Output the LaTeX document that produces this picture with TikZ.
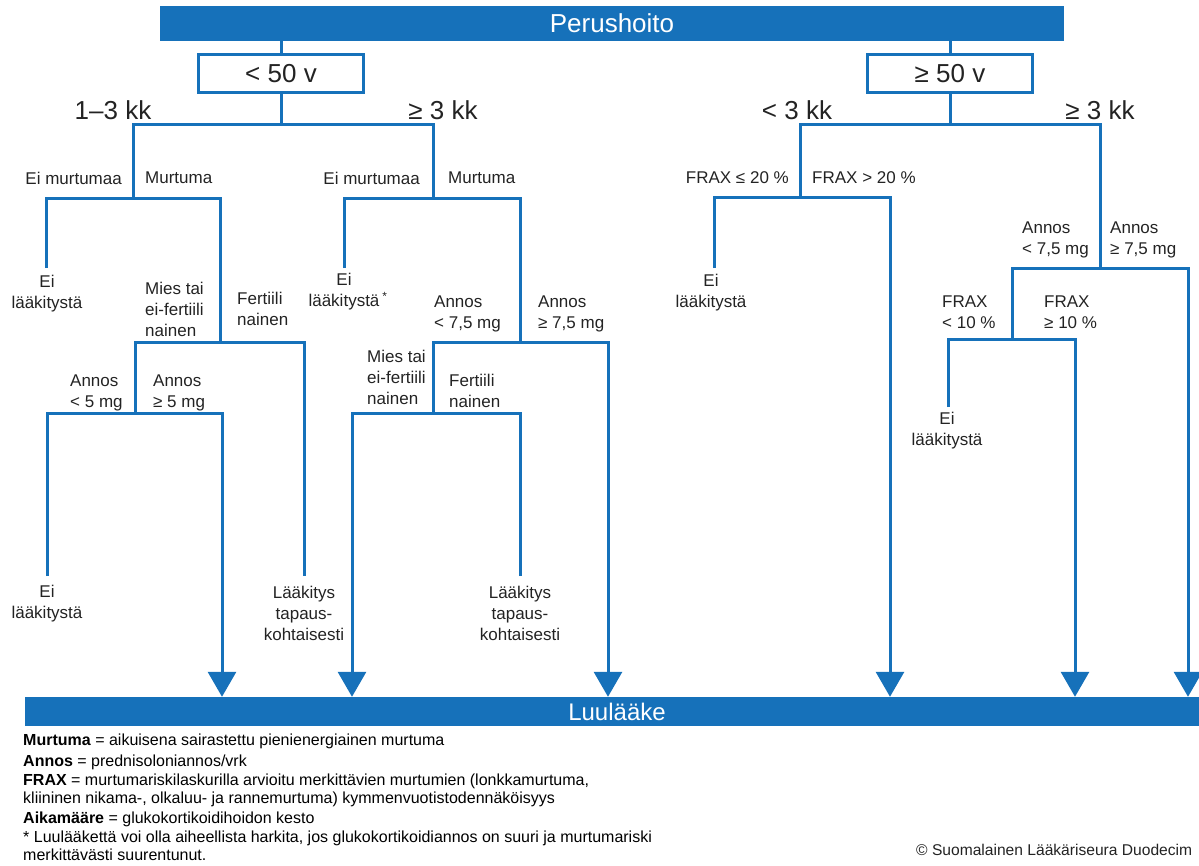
\documentclass[tikz,border=0pt]{standalone}
\usepackage{fontspec}
\setmainfont{Liberation Sans}
\usetikzlibrary{arrows.meta}
\definecolor{dblue}{RGB}{22,113,186}
\definecolor{txt}{RGB}{35,35,35}
\newcommand{\lfont}{\fontsize{17}{21}\selectfont}
\newcommand{\bfont}{\fontsize{26}{30}\selectfont}
\newcommand{\ffont}{\fontsize{16}{19}\selectfont}
\begin{document}
\begin{tikzpicture}[x=1pt,y=-1pt,
  ln/.style={draw=dblue,line width=3pt,line join=miter},
  arr/.style={ln,-{Triangle[width=28pt,length=25pt]}},
  bar/.style={fill=dblue,draw=none,text=white,inner sep=0pt},
  agebox/.style={draw=dblue,line width=3pt,fill=white,text=txt,font=\bfont,inner sep=0pt,
     minimum width=165pt,minimum height=38pt},
  big/.style={text=txt,font=\bfont,inner sep=0pt},
  lab/.style={text=txt,font=\lfont,inner sep=0pt,align=left},
  leaf/.style={text=txt,font=\lfont,inner sep=0pt,align=center,anchor=north},
  foot/.style={text=black,font=\ffont,inner sep=0pt,anchor=base west}]
\useasboundingbox (0,0) rectangle (1199,865);

% bars and boxes
\node[bar,font=\bfont,minimum width=904pt,minimum height=35pt] (top) at (612,23.5) {Perushoito};
\node[bar,font=\fontsize{24}{28}\selectfont,minimum width=1184pt,minimum height=29pt] (bot) at (617,711.5) {Luulääke};
\node[agebox] (A) at (281,73.5) {< 50 v};
\node[agebox] (B) at (950,73.5) {≥ 50 v};

% big labels
\node[big] (t1) at (113,110) {1–3 kk};
\node[big] (t2) at (443,110) {≥ 3 kk};
\node[big] (t3) at (797,110) {< 3 kk};
\node[big] (t4) at (1100,110) {≥ 3 kk};

% coordinates
\coordinate (a1) at (133,124); \coordinate (a2) at (433,124);
\coordinate (L1) at (133,198); \coordinate (M1) at (433,198);
\coordinate (l1a) at (46,198); \coordinate (l1b) at (220,198);
\coordinate (e1) at (46,268); \coordinate (L2) at (220,342);
\coordinate (l2a) at (135,342); \coordinate (l2b) at (304,342);
\coordinate (L3) at (135,413); \coordinate (e2) at (304,576);
\coordinate (l3a) at (47,413); \coordinate (l3b) at (222,413);
\coordinate (e3) at (47,576);
\coordinate (m1a) at (344,198); \coordinate (m1b) at (520,198);
\coordinate (em1) at (344,268); \coordinate (M2) at (520,342);
\coordinate (m2a) at (433,342); \coordinate (m2b) at (608,342);
\coordinate (M3) at (433,413);
\coordinate (m3a) at (352,413); \coordinate (m3b) at (520,413);
\coordinate (em3) at (520,576);
\coordinate (b1) at (800,124); \coordinate (b2) at (1100,124);
\coordinate (R1) at (800,197); \coordinate (S1) at (1100,268);
\coordinate (r1a) at (714,197); \coordinate (r1b) at (890,197);
\coordinate (er1) at (714,268);
\coordinate (s1a) at (1012,268); \coordinate (s1b) at (1188,268);
\coordinate (S2) at (1012,339);
\coordinate (s2a) at (948,339); \coordinate (s2b) at (1075,339);
\coordinate (es2) at (948,407);

% connectors
\draw[ln] (A.north) -- (A.north |- top.south);
\draw[ln] (B.north) -- (B.north |- top.south);
\draw[ln] (A.south) -- (A.south |- a1);
\draw[ln] (B.south) -- (B.south |- b1);
\draw[ln] (L1) -- (a1) -- (a2) -- (M1);
\draw[ln] (e1) -- (l1a) -- (l1b) -- (L2);
\draw[ln] (L3) -- (l2a) -- (l2b) -- (e2);
\draw[arr] (e3) -- (l3a) -- (l3b) -- (l3b |- bot.north);
\draw[ln] (em1) -- (m1a) -- (m1b) -- (M2);
\draw[arr] (M3) -- (m2a) -- (m2b) -- (m2b |- bot.north);
\draw[arr] (em3) -- (m3b) -- (m3a) -- (m3a |- bot.north);
\draw[ln] (R1) -- (b1) -- (b2) -- (S1);
\draw[arr] (er1) -- (r1a) -- (r1b) -- (r1b |- bot.north);
\draw[arr] (S2) -- (s1a) -- (s1b) -- (s1b |- bot.north);
\draw[arr] (es2) -- (s2a) -- (s2b) -- (s2b |- bot.north);

% labels left
\node[lab,anchor=east] (n1) at (122,178) {Ei murtumaa};
\node[lab,anchor=west] (n2) at (145,178) {Murtuma};
\node[leaf] (n3) at (47,275) {Ei\\lääkitystä};
\node[lab,anchor=north west] (n4) at (145,282) {Mies tai\\ei-fertiili\\nainen};
\node[lab,anchor=north west] (n5) at (237,292) {Fertiili\\nainen};
\node[lab,anchor=north west] (n6) at (70,375) {Annos\\< 5 mg};
\node[lab,anchor=north west] (n7) at (153,375) {Annos\\≥ 5 mg};
\node[leaf] (n8) at (47,585) {Ei\\lääkitystä};
\node[leaf] (n9) at (304,586) {Lääkitys\\tapaus-\\kohtaisesti};
% labels middle
\node[lab,anchor=east] (n10) at (420,178) {Ei murtumaa};
\node[lab,anchor=west] (n11) at (448,178) {Murtuma};
\node[leaf] (n12) at (344,273) {Ei\\lääkitystä\rlap{\,\textsuperscript{*}}};
\node[lab,anchor=north west] (n13) at (434,296) {Annos\\< 7,5 mg};
\node[lab,anchor=north west] (n14) at (538,296) {Annos\\≥ 7,5 mg};
\node[lab,anchor=north west] (n15) at (367,350) {Mies tai\\ei-fertiili\\nainen};
\node[lab,anchor=north west] (n16) at (449,374) {Fertiili\\nainen};
\node[leaf] (n17) at (520,586) {Lääkitys\\tapaus-\\kohtaisesti};
% labels right
\node[lab,anchor=east] (n18) at (789,178) {FRAX ≤ 20 \%};
\node[lab,anchor=west] (n19) at (812,178) {FRAX > 20 \%};
\node[leaf] (n20) at (711,274) {Ei\\lääkitystä};
\node[lab,anchor=north west] (n21) at (1022,222) {Annos\\< 7,5 mg};
\node[lab,anchor=north west] (n22) at (1110,222) {Annos\\≥ 7,5 mg};
\node[lab,anchor=north west] (n23) at (942,296) {FRAX\\< 10 \%};
\node[lab,anchor=north west] (n24) at (1044,296) {FRAX\\≥ 10 \%};
\node[leaf] (n25) at (947,412) {Ei\\lääkitystä};

% footer
\node[foot] (f1) at (23,745) {\textbf{Murtuma} = aikuisena sairastettu pienienergiainen murtuma};
\node[foot] (f2) at (23,766) {\textbf{Annos} = prednisoloniannos/vrk};
\node[foot] (f3) at (23,785) {\textbf{FRAX} = murtumariskilaskurilla arvioitu merkittävien murtumien (lonkkamurtuma,};
\node[foot] (f4) at (23,803) {kliininen nikama-, olkaluu- ja rannemurtuma) kymmenvuotistodennäköisyys};
\node[foot] (f5) at (23,823) {\textbf{Aikamääre} = glukokortikoidihoidon kesto};
\node[foot] (f6) at (23,842) {* Luulääkettä voi olla aiheellista harkita, jos glukokortikoidiannos on suuri ja murtumariski};
\node[foot] (f7) at (23,860) {merkittävästi suurentunut.};
\node[foot,text=txt,font=\fontsize{15.6}{19}\selectfont] (cr) at (916,855) {© Suomalainen Lääkäriseura Duodecim};
\end{tikzpicture}
\end{document}
